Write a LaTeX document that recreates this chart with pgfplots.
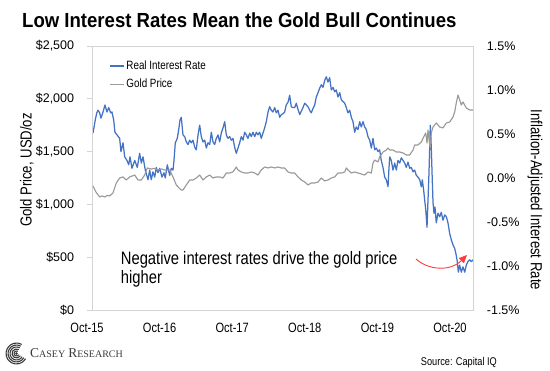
\documentclass[border=0pt]{standalone}
\usepackage{pgfplots}
\pgfplotsset{compat=1.18}
\usepackage{pgfplotstable}
\usepackage{fontspec}
\setmainfont{Liberation Sans}[FakeStretch=0.82]
\newfontfamily\titlefont{Liberation Sans}[FakeStretch=0.91]
\newfontfamily\regfont{Liberation Sans}
\newfontfamily\logofont{Liberation Serif}
\usetikzlibrary{arrows.meta}
\definecolor{rblue}{HTML}{4472C4}
\definecolor{ggray}{HTML}{9A9A9A}
\definecolor{framegray}{HTML}{D4D4D4}
\definecolor{logogray}{HTML}{3A3A3A}
\definecolor{arrred}{HTML}{FF3B3B}

% Real interest rate (%), x = years since Oct-15
\pgfplotstableread{
t r
0.000 0.51
0.030 0.66
0.050 0.74
0.066 0.77
0.088 0.74
0.105 0.68
0.132 0.75
0.158 0.83
0.184 0.75
0.207 0.80
0.233 0.74
0.250 0.75
0.272 0.66
0.289 0.52
0.316 0.49
0.351 0.45
0.368 0.30
0.395 0.40
0.417 0.24
0.447 0.20
0.470 0.15
0.487 0.24
0.513 0.11
0.549 0.20
0.583 0.12
0.614 0.28
0.636 0.17
0.658 0.24
0.688 0.09
0.724 -0.02
0.746 0.09
0.767 -0.02
0.789 0.07
0.812 0.01
0.833 0.12
0.855 0.06
0.878 0.11
0.908 0.01
0.934 0.06
0.951 0.00
0.978 0.15
1.009 0.03
1.030 0.11
1.053 0.09
1.066 0.20
1.083 0.40
1.109 0.45
1.128 0.55
1.145 0.66
1.162 0.69
1.184 0.49
1.207 0.47
1.228 0.41
1.250 0.38
1.272 0.43
1.293 0.40
1.316 0.43
1.338 0.35
1.359 0.32
1.382 0.49
1.404 0.60
1.425 0.47
1.447 0.41
1.470 0.43
1.491 0.34
1.513 0.40
1.536 0.38
1.557 0.52
1.579 0.41
1.601 0.38
1.622 0.45
1.645 0.49
1.667 0.41
1.688 0.51
1.711 0.57
1.733 0.64
1.754 0.49
1.776 0.45
1.799 0.47
1.820 0.43
1.842 0.45
1.864 0.35
1.886 0.28
1.908 0.34
1.930 0.40
1.951 0.47
1.974 0.43
1.996 0.52
2.017 0.49
2.039 0.45
2.062 0.51
2.083 0.47
2.105 0.52
2.128 0.47
2.149 0.52
2.171 0.49
2.193 0.52
2.214 0.45
2.237 0.51
2.259 0.57
2.280 0.64
2.303 0.75
2.325 0.81
2.346 0.77
2.368 0.75
2.391 0.80
2.412 0.74
2.434 0.77
2.457 0.69
2.478 0.72
2.500 0.73
2.522 0.75
2.543 0.83
2.566 0.86
2.588 0.94
2.609 0.81
2.632 0.80
2.654 0.80
2.675 0.85
2.697 0.78
2.720 0.72
2.741 0.76
2.763 0.80
2.786 0.85
2.808 0.83
2.829 0.81
2.851 0.77
2.872 0.74
2.895 0.79
2.917 0.83
2.938 0.92
2.961 0.97
2.983 1.02
3.004 1.06
3.026 1.03
3.049 1.11
3.070 1.15
3.092 1.09
3.114 1.14
3.136 1.00
3.158 1.03
3.180 0.98
3.201 1.00
3.224 0.92
3.246 0.97
3.267 0.89
3.290 0.87
3.312 0.85
3.333 0.80
3.355 0.74
3.378 0.77
3.399 0.69
3.421 0.64
3.443 0.52
3.464 0.58
3.487 0.55
3.509 0.64
3.530 0.58
3.553 0.64
3.575 0.58
3.596 0.55
3.618 0.47
3.641 0.43
3.662 0.34
3.684 0.45
3.707 0.32
3.728 0.34
3.750 0.30
3.772 0.32
3.793 0.20
3.816 0.12
3.838 0.01
3.859 -0.02
3.882 -0.10
3.895 0.12
3.904 0.24
3.925 0.20
3.947 0.09
3.970 0.17
3.991 0.09
4.013 0.20
4.036 0.17
4.057 0.23
4.079 0.20
4.101 0.17
4.122 0.12
4.145 0.18
4.167 0.11
4.188 0.12
4.211 0.07
4.233 0.09
4.254 0.03
4.276 0.01
4.299 -0.02
4.320 -0.10
4.333 -0.02
4.351 -0.14
4.364 -0.25
4.378 -0.36
4.395 -0.56
4.408 -0.25
4.421 0.06
4.438 0.60
4.451 0.35
4.464 -0.02
4.474 -0.28
4.487 -0.40
4.500 -0.33
4.517 -0.51
4.539 -0.40
4.562 -0.44
4.583 -0.39
4.605 -0.48
4.628 -0.42
4.649 -0.44
4.671 -0.51
4.693 -0.63
4.714 -0.70
4.737 -0.76
4.759 -0.80
4.780 -0.88
4.793 -0.95
4.807 -1.07
4.825 -0.99
4.846 -1.07
4.868 -1.01
4.891 -1.07
4.912 -0.99
4.934 -0.95
4.957 -0.93
4.978 -0.95
5.000 -0.93
}\ratetable

% Gold price (USD/oz), x = years since Oct-15
\pgfplotstableread{
t v
0.000 1174
0.039 1117
0.088 1070
0.120 1080
0.154 1070
0.190 1085
0.220 1080
0.263 1108
0.307 1203
0.351 1250
0.395 1260
0.438 1231
0.483 1260
0.549 1278
0.592 1231
0.636 1231
0.680 1278
0.714 1345
0.767 1335
0.810 1340
0.855 1326
0.900 1335
0.943 1326
1.009 1326
1.053 1260
1.096 1184
1.140 1150
1.162 1136
1.184 1136
1.228 1184
1.272 1231
1.316 1231
1.359 1250
1.404 1278
1.447 1231
1.491 1260
1.536 1278
1.579 1250
1.622 1260
1.667 1260
1.711 1250
1.754 1297
1.799 1297
1.842 1307
1.886 1354
1.908 1326
1.951 1307
1.996 1297
2.039 1297
2.083 1307
2.128 1297
2.171 1278
2.214 1326
2.259 1354
2.303 1345
2.346 1354
2.391 1345
2.434 1354
2.478 1345
2.522 1345
2.566 1307
2.609 1297
2.654 1297
2.697 1260
2.741 1231
2.786 1212
2.829 1184
2.872 1203
2.917 1203
2.961 1212
3.004 1250
3.049 1222
3.092 1231
3.136 1250
3.180 1260
3.224 1297
3.267 1297
3.312 1307
3.333 1345
3.355 1326
3.399 1297
3.443 1307
3.487 1297
3.530 1288
3.575 1278
3.618 1307
3.662 1297
3.684 1392
3.707 1420
3.750 1402
3.772 1449
3.816 1496
3.859 1515
3.882 1534
3.904 1515
3.947 1515
3.991 1496
4.036 1496
4.079 1487
4.122 1468
4.167 1468
4.211 1515
4.233 1563
4.276 1563
4.320 1591
4.351 1638
4.378 1676
4.395 1581
4.408 1705
4.430 1563
4.438 1534
4.451 1676
4.474 1733
4.517 1771
4.562 1733
4.605 1724
4.649 1771
4.693 1780
4.737 1828
4.759 1875
4.780 1960
4.803 2036
4.825 1989
4.846 1941
4.868 1970
4.912 1913
4.957 1894
5.000 1894
}\goldtable

\begin{document}
\begin{tikzpicture}[x=1pt,y=1pt]
\path[use as bounding box] (0,0) rectangle (550,371);

% title
\node[anchor=base west, inner sep=0pt, font=\titlefont\bfseries\fontsize{20.4}{20.4}\selectfont] at (22,343.7) {Low Interest Rates Mean the Gold Bull Continues};

% right axis: real interest rate
\begin{axis}[
  at={(92pt,61pt)}, anchor=south west,
  scale only axis, width=381pt, height=264pt,
  xmin=-0.013, xmax=5.0, ymin=-1.5, ymax=1.5,
  axis x line=none,
  axis y line*=right,
  y axis line style={draw=none},
  ytick={-1.5,-1,-0.5,0,0.5,1,1.5},
  major tick length=0pt,
  /pgf/number format/assume math mode=true,
  yticklabel style={font=\regfont\fontsize{12.5}{12.5}\selectfont, anchor=west, inner sep=0pt, xshift=13.7pt},
  yticklabel={\pgfmathprintnumber[fixed,fixed zerofill,precision=1]{\tick}\%},
  ylabel={Inflation-Adjusted Interest Rate},
  ylabel style={at={(axis description cs:1.163,0.417)}, anchor=center, rotate=180, font=\fontsize{16}{16}\selectfont, inner sep=0pt},
]
\addplot[rblue, line width=1.25pt, line join=round] table[x=t, y=r] {\ratetable};
\end{axis}

% left axis: gold price
\begin{axis}[
  at={(92pt,61pt)}, anchor=south west,
  scale only axis, width=381pt, height=264pt,
  xmin=-0.013, xmax=5.0, ymin=0, ymax=2500,
  axis line style={draw=framegray, line width=0.8pt},
  xtick=\empty,
  ytick={0,500,1000,1500,2000,2500}, ytick pos=left,
  tick align=outside, major tick length=5pt,
  tick style={draw=framegray, line width=0.8pt},
  scaled y ticks=false,
  /pgf/number format/assume math mode=true,
  yticklabel style={font=\regfont\fontsize{12.5}{12.5}\selectfont, anchor=east, inner sep=0pt, xshift=-12.7pt},
  yticklabel={\$\pgfmathprintnumber[fixed,1000 sep={,}]{\tick}},
  ylabel={Gold Price, USD/oz},
  ylabel style={at={(axis description cs:-0.171,0.530)}, anchor=center, font=\fontsize{16}{16}\selectfont, inner sep=0pt},
  legend style={at={(axis description cs:0.0446,0.944)}, anchor=north west, draw=none, fill=none,
    font=\fontsize{12}{12}\selectfont, inner sep=0pt, row sep=8pt,
    nodes={inner sep=0pt}},
  legend cell align=left,
  legend image code/.code={\draw[#1, line cap=butt] (0pt,0pt) -- (14pt,0pt);},
  legend style={/tikz/every even column/.append style={column sep=0pt}},
]
\addlegendimage{rblue, line width=1.25pt}
\addlegendentry{\hspace{2pt}Real Interest Rate}
\addplot[ggray, line width=1.15pt, line join=round] table[x=t, y=v] {\goldtable};
\addlegendentry{\hspace{2pt}Gold Price}
\end{axis}

% category labels of the time axis
\begin{axis}[
  at={(87pt,61pt)}, anchor=south west,
  scale only axis, width=386pt, height=264pt,
  xmin=0, xmax=5.317, ymin=0, ymax=1,
  axis x line*=bottom, axis y line=none,
  x axis line style={draw=none},
  xtick={0,1,2,3,4,5},
  xticklabels={Oct-15,Oct-16,Oct-17,Oct-18,Oct-19,Oct-20},
  major tick length=0pt,
  xticklabel style={font=\fontsize{13.5}{13.5}\selectfont, anchor=north, inner sep=0pt, yshift=-13pt},
]
\addplot[draw=none] coordinates {(1,0.5)};
\end{axis}

% annotation
\node[anchor=base west, inner sep=0pt, font=\fontsize{18}{18}\selectfont] at (120.7,106.7) {Negative interest rates drive the gold price};
\node[anchor=base west, inner sep=0pt, font=\fontsize{18}{18}\selectfont] at (120.7,87.7) {higher};
\draw[arrred, line width=0.9pt, -{Triangle[length=8pt,width=7pt]}] (416,112) .. controls (428,101) and (450,99) .. (467,116);

% logo
\begin{scope}[logogray, line width=1.1pt]
  \foreach \r in {2.5,4.5,6.5,8.5,10.5} {
    \draw (16.5,17.5) ++(60:\r) arc[start angle=60, end angle=330, radius=\r];
  }
  \fill (16.5,17.5) circle (1.4);
\end{scope}
\node[anchor=base west, inner sep=0pt, text=logogray, font=\logofont] at (30,13.7)
  {{\fontsize{13.5}{13.5}\selectfont C}{\fontsize{10}{10}\selectfont ASEY}\hspace{3pt}{\fontsize{13.5}{13.5}\selectfont R}{\fontsize{10}{10}\selectfont ESEARCH}};

% source
\node[anchor=base east, inner sep=0pt, font=\fontsize{11.2}{11.2}\selectfont] at (497,5) {Source: Capital IQ};
\end{tikzpicture}
\end{document}
